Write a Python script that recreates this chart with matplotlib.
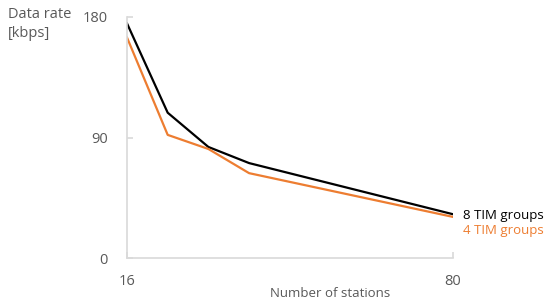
import matplotlib.pyplot as plt

plt.rcParams['font.family'] = ['Open Sans', 'DejaVu Sans']

# Data
stations = [16, 24, 32, 40, 80]
rate_8_groups = [175, 108.5, 83, 71, 33]
rate_4_groups = [164.5, 92, 81.5, 63.5, 31]

x_ticks = [16, 80]
y_ticks = [0, 90, 180]

grey_text = '#595959'
axis_grey = '#d9d9d9'
orange = '#ed7d31'

fig = plt.figure(figsize=(5.5, 3.03), dpi=100)
ax = fig.add_axes([0.2309, 0.147, 0.592, 0.798])

ax.plot(stations, rate_8_groups, color='black', lw=1.6)
ax.plot(stations, rate_4_groups, color=orange, lw=1.6)

ax.set_xlim(16, 80)
ax.set_ylim(0, 180)
ax.set_xticks(x_ticks)
ax.set_yticks(y_ticks)

for side in ['top', 'right']:
    ax.spines[side].set_visible(False)
for side in ['left', 'bottom']:
    ax.spines[side].set_color(axis_grey)
    ax.spines[side].set_linewidth(1.2)

ax.tick_params(axis='both', direction='in', length=4, width=1.2,
               color=axis_grey, labelcolor=grey_text, labelsize=10.5)
ax.tick_params(axis='y', pad=14)
ax.tick_params(axis='x', pad=11)

ax.text(-0.365, 1.04, 'Data rate\n[kbps]', transform=ax.transAxes,
        ha='left', va='top', fontsize=10.5, color=grey_text, linespacing=1.4)
ax.text(0.623, -0.12, 'Number of stations', transform=ax.transAxes,
        ha='center', va='top', fontsize=9.5, color=grey_text)

# series labels at the right end of the lines
ax.text(82, rate_8_groups[-1] - 1, '8 TIM groups', ha='left', va='center',
        fontsize=9.5, color='black', clip_on=False)
ax.text(82, rate_4_groups[-1] - 10, '4 TIM groups', ha='left', va='center',
        fontsize=9.5, color=orange, clip_on=False)

fig.savefig('out.png', dpi=100)
